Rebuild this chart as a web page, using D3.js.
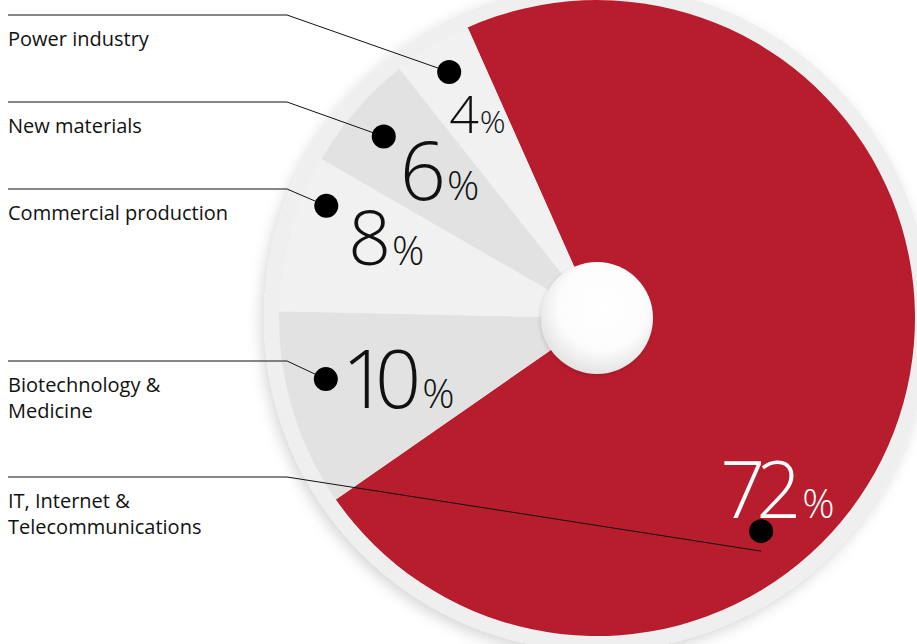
<!DOCTYPE html>
<html>
<head>
<meta charset="utf-8">
<script src="https://cdn.jsdelivr.net/npm/d3@7"></script>
<style>
  html, body { margin: 0; padding: 0; background: #ffffff; }
  svg { display: block; }
</style>
</head>
<body>
<svg id="chart" width="917" height="644"></svg>
<script>
// Sector shares of the portfolio (percent), drawn clockwise
const categories = [
  "IT, Internet & Telecommunications",
  "Biotechnology & Medicine",
  "Commercial production",
  "New materials",
  "Power industry"
];
const shares = [72, 10, 8, 6, 4];
const labelLines = [
  ["IT, Internet &", "Telecommunications"],
  ["Biotechnology &", "Medicine"],
  ["Commercial production"],
  ["New materials"],
  ["Power industry"]
];
const sliceColors = ["#bb1d2f", "#e5e5e5", "#f4f4f4", "#e5e5e5", "#f4f4f4"];
const valueColors = ["#ffffff", "#111111", "#111111", "#111111", "#111111"];

// Callout layout: row of the left-hand caption, dot placement in polar terms,
// and the offset / size of the big value figure relative to the dot
const rowY        = [477, 361, 189, 102, 15];
const dotAngleDeg = [142.4, 257.3, 292.5, 310.4, 329.0];
const dotRadius   = [269, 278, 293, 280, 287];
const valueDx     = [-41, 16, 22, 16, 0];
const valueDy     = [-13, 29, 59, 63, 61];
const valueSize   = [79, 81, 75, 81, 52];
const pctSize     = [40, 40, 40, 40, 32];
const digitGap    = [-9, -13, 0, 0, 0];
const leaderEndDy = [20, 0, 0, 0, 0];

const width = 917, height = 644;
const cx = 597, cy = 318;
const outerR = 318, ringR = 333, holeR = 56;

const svg = d3.select("#chart");
const defs = svg.append("defs");

const shadow = defs.append("filter").attr("id", "discShadow")
  .attr("x", "-20%").attr("y", "-20%").attr("width", "140%").attr("height", "140%");
shadow.append("feDropShadow")
  .attr("dx", -3).attr("dy", 5).attr("stdDeviation", 7)
  .attr("flood-color", "#000").attr("flood-opacity", 0.16);

const holeShadow = defs.append("filter").attr("id", "holeShadow")
  .attr("x", "-30%").attr("y", "-30%").attr("width", "160%").attr("height", "160%");
holeShadow.append("feDropShadow")
  .attr("dx", -1).attr("dy", 2).attr("stdDeviation", 2)
  .attr("flood-color", "#000").attr("flood-opacity", 0.12);

// soft radial shading for each slice colour
sliceColors.forEach((c, i) => {
  const g = defs.append("radialGradient").attr("id", "slice" + i)
    .attr("gradientUnits", "userSpaceOnUse")
    .attr("cx", cx).attr("cy", cy).attr("r", outerR);
  const base = d3.color(c);
  g.append("stop").attr("offset", "0%").attr("stop-color", base.brighter(0.08));
  g.append("stop").attr("offset", "70%").attr("stop-color", base.brighter(0.04));
  g.append("stop").attr("offset", "100%").attr("stop-color", base.darker(0.04));
});

const holeGrad = defs.append("radialGradient").attr("id", "holeGrad")
  .attr("cx", "55%").attr("cy", "40%").attr("r", "60%");
holeGrad.append("stop").attr("offset", "0%").attr("stop-color", "#ffffff");
holeGrad.append("stop").attr("offset", "65%").attr("stop-color", "#fcfcfc");
holeGrad.append("stop").attr("offset", "100%").attr("stop-color", "#e4e4e4");

const g = svg.append("g").attr("transform", `translate(${cx},${cy})`);

// backing disc
g.append("circle").attr("r", ringR).attr("fill", "#efefef").attr("filter", "url(#discShadow)");

const pie = d3.pie().sort(null)
  .startAngle(-24 * Math.PI / 180)
  .endAngle(336 * Math.PI / 180);
const arcs = pie(shares);
const arc = d3.arc().innerRadius(0).outerRadius(outerR);

g.selectAll("path.slice").data(arcs).join("path")
  .attr("class", "slice")
  .attr("d", arc)
  .attr("fill", (d, i) => `url(#slice${i})`);

// centre hole
g.append("circle").attr("r", holeR).attr("fill", "url(#holeGrad)").attr("filter", "url(#holeShadow)");

// callouts
const rad = a => a * Math.PI / 180;
const dots = shares.map((v, i) => {
  const a = rad(dotAngleDeg[i]);
  return [cx + dotRadius[i] * Math.sin(a), cy - dotRadius[i] * Math.cos(a)];
});

const callouts = svg.append("g");
const lineStartX = 8, elbowX = 287;

shares.forEach((v, i) => {
  const [dx, dy] = dots[i];
  callouts.append("path")
    .attr("d", d3.line()([[lineStartX, rowY[i]], [elbowX, rowY[i]], [dx, dy + leaderEndDy[i]]]))
    .attr("fill", "none").attr("stroke", "#111").attr("stroke-width", 1);
});

// caption text on the left
shares.forEach((v, i) => {
  const t = callouts.append("text")
    .attr("x", lineStartX).attr("y", rowY[i] + 31)
    .attr("font-family", "'Open Sans', 'Noto Sans', sans-serif")
    .attr("font-size", 20).attr("fill", "#111");
  labelLines[i].forEach((line, k) => {
    t.append("tspan").attr("x", lineStartX).attr("dy", k === 0 ? 0 : 26).text(line);
  });
});

// dots and big value figures
shares.forEach((v, i) => {
  const [dx, dy] = dots[i];
  callouts.append("circle").attr("cx", dx).attr("cy", dy).attr("r", 12).attr("fill", "#000");
});
shares.forEach((v, i) => {
  const [dx, dy] = dots[i];
  const t = callouts.append("text")
    .attr("x", dx + valueDx[i]).attr("y", dy + valueDy[i])
    .attr("font-family", "'Open Sans', Lato, Roboto, sans-serif")
    .attr("font-weight", 300)
    .attr("fill", valueColors[i])
    .attr("font-size", valueSize[i]);
  t.append("tspan").attr("letter-spacing", digitGap[i]).text(v);
  t.append("tspan").attr("font-size", pctSize[i]).attr("letter-spacing", 0)
    .attr("dx", 1 - digitGap[i]).text("%");
});
</script>
</body>
</html>
